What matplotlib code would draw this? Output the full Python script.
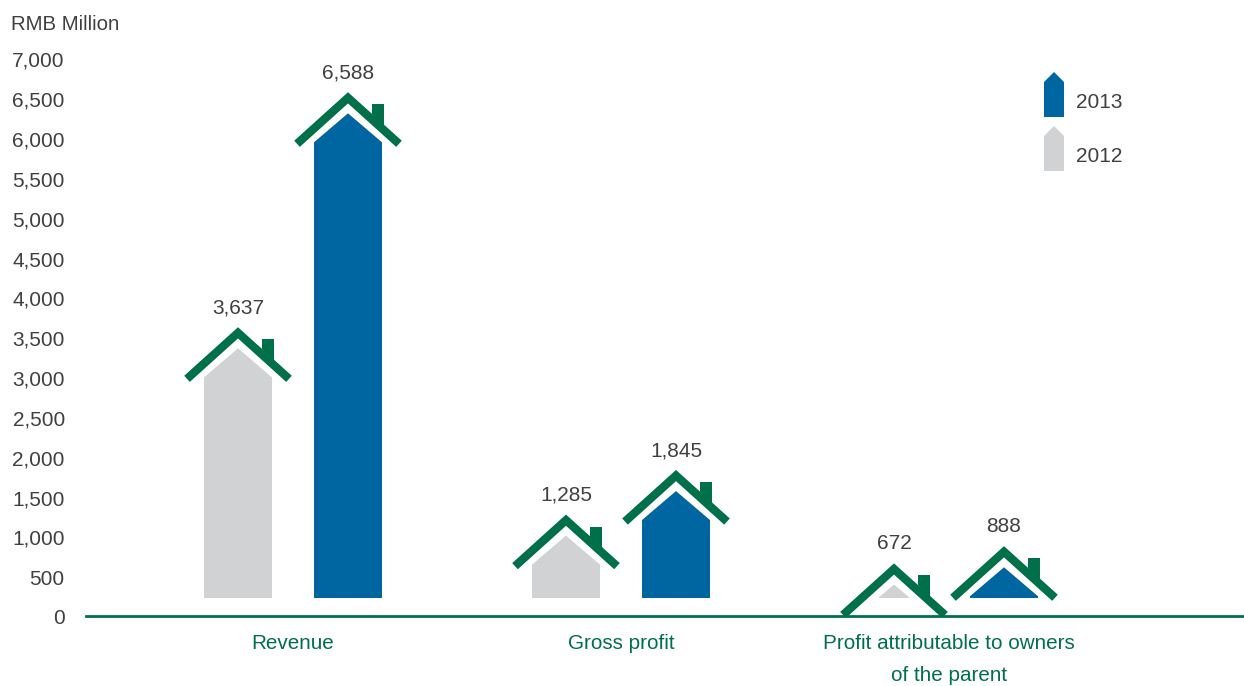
import matplotlib
matplotlib.use('Agg')
import matplotlib.pyplot as plt
from matplotlib.patches import Polygon
import numpy as np

categories = ['Revenue', 'Gross profit', 'Profit attributable to owners\nof the parent']
values_2012 = [3637, 1285, 672]
values_2013 = [6588, 1845, 888]
ytick_values = list(range(0, 7500, 500))

GREEN = '#00704a'
BLUE = '#0066a1'
GREY = '#d1d2d4'
TEXT = '#404040'

W, H = 1244, 686
plt.rcParams['font.family'] = ['Liberation Sans', 'DejaVu Sans']

fig = plt.figure(figsize=(W / 100, H / 100), dpi=100)
# axes box: 0 sits on the green line, 7000 at the top tick
left, right, y0, y7000 = 86, 1244, 617, 59.5
ax = fig.add_axes([left / W, 1 - y0 / H, (right - left) / W, (y0 - y7000) / H])
ax.set_ylim(0, 7000)
group_px = 328
ax.set_xlim((left - 293) / group_px, (right - 293) / group_px)
ax.patch.set_alpha(0)

dx = 1 / group_px            # one pixel in x data units
dy = 7000 / (y0 - y7000)     # one pixel in y data units
base = 19 * dy               # houses stand on a line above the axis


def house(x, value, colour):
    """Body, roof and chimney with the roof peak at value."""
    # body, trimmed to a triangle when the shoulders fall under the base line
    top = value - 21 * dy
    shoulder = value - 50 * dy
    if shoulder > base:
        pts = [(x - 34 * dx, base), (x - 34 * dx, shoulder), (x, top),
               (x + 34 * dx, shoulder), (x + 34 * dx, base)]
    else:
        half = 34 * (top - base) / (top - shoulder) * dx
        pts = [(x - half, base), (x, top), (x + half, base)]
    ax.add_patch(Polygon(pts, closed=True, fc=colour, ec='none', zorder=2))

    # roof
    peak = value - 5.5 * dy
    ax.plot([x - 51 * dx, x, x + 51 * dx], [peak - 46 * dy, peak, peak - 46 * dy],
            color=GREEN, lw=6, solid_joinstyle='miter', solid_capstyle='butt', zorder=3)

    # chimney
    ax.add_patch(Polygon([(x + 24 * dx, value - 22 * dy), (x + 24 * dx, value - 12 * dy),
                          (x + 36 * dx, value - 12 * dy), (x + 36 * dx, value - 36 * dy)],
                         closed=True, fc=GREEN, ec='none', zorder=3))

    ax.text(x, value + 10 * dy, f'{value:,}', ha='center', va='bottom',
            fontsize=15, color=TEXT)


positions = np.arange(len(categories))
offset = 55 * dx
for p, v12, v13 in zip(positions, values_2012, values_2013):
    house(p - offset, v12, GREY)
    house(p + offset, v13, BLUE)

for side in ['top', 'left', 'right']:
    ax.spines[side].set_visible(False)
ax.spines['bottom'].set_color(GREEN)
ax.spines['bottom'].set_linewidth(2)
ax.spines['bottom'].set_position(('outward', -0.7))

ax.set_yticks(ytick_values)
ax.set_yticklabels([f'{t:,}' for t in ytick_values], fontsize=15, color=TEXT)
ax.tick_params(axis='y', length=0, pad=15.3)
ax.set_xticks(positions)
ax.set_xticklabels(categories, fontsize=14.9, color=GREEN, linespacing=1.88)
ax.tick_params(axis='x', length=0, pad=12.7)

fig.text(11 / W, 1 - 25 / H, 'RMB Million', ha='left', va='center', fontsize=14.7, color=TEXT)


# legend, placed in figure pixels
def legend_key(top, colour, label):
    xs = np.array([1044, 1044, 1054, 1064, 1064])
    ys = np.array([top + 45, top + 10, top, top + 10, top + 45])
    fig.add_artist(Polygon(np.c_[xs / W, 1 - ys / H], closed=True, fc=colour, ec='none',
                           transform=fig.transFigure))
    fig.text(1076 / W, 1 - (top + 30.5) / H, label, ha='left', va='center',
             fontsize=15, color=TEXT)


legend_key(72, BLUE, '2013')
legend_key(126, GREY, '2012')

fig.savefig('out.png', dpi=100)
